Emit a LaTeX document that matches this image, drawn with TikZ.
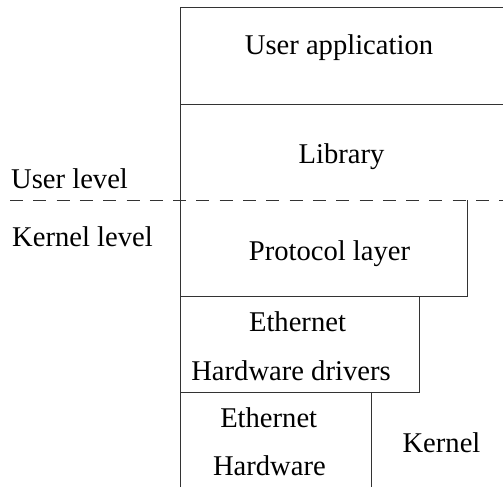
\documentclass[tikz,border=0pt]{standalone}
\usepackage{fontspec}
\setmainfont{Liberation Serif}
\begin{document}
\begin{tikzpicture}[x=1pt,y=-1pt,
  ln/.style={line width=1pt,draw=black!80},
  dashln/.style={ln,dash pattern=on 13pt off 10.3pt},
  lbl/.style={inner sep=0pt,anchor=base,font=\fontsize{28.6}{34}\selectfont},
  lblw/.style={lbl,anchor=base west}]
\useasboundingbox (0,0) rectangle (503,487);
% structure
\draw[ln] (180,487) -- (180,8) -- (503,8);
\draw[ln] (180,104) -- (503,104);
\draw[dashln] (10,200) -- (503,200);
\draw[ln] (467,200) -- (467,296) -- (180,296);
\draw[ln] (419,296) -- (419,392) -- (180,392);
\draw[ln] (371,392) -- (371,487);
% texts
\node[lbl] (app) at (339,55) {User application};
\node[lbl] (lib) at (341.5,163) {Library};
\node[lblw] (ulev) at (11,188.3) {User level};
\node[lblw] (klev) at (12,246.7) {Kernel level};
\node[lbl] (prot) at (329.5,260) {Protocol layer};
\node[lbl] (eth1) at (297.5,331.7) {Ethernet};
\node[lbl] (drv) at (291,380) {Hardware drivers};
\node[lbl] (eth2) at (268.7,427.7) {Ethernet};
\node[lbl] (hw) at (269.4,475) {Hardware};
\node[lbl] (kern) at (441.5,452.7) {Kernel};
\end{tikzpicture}
\end{document}
